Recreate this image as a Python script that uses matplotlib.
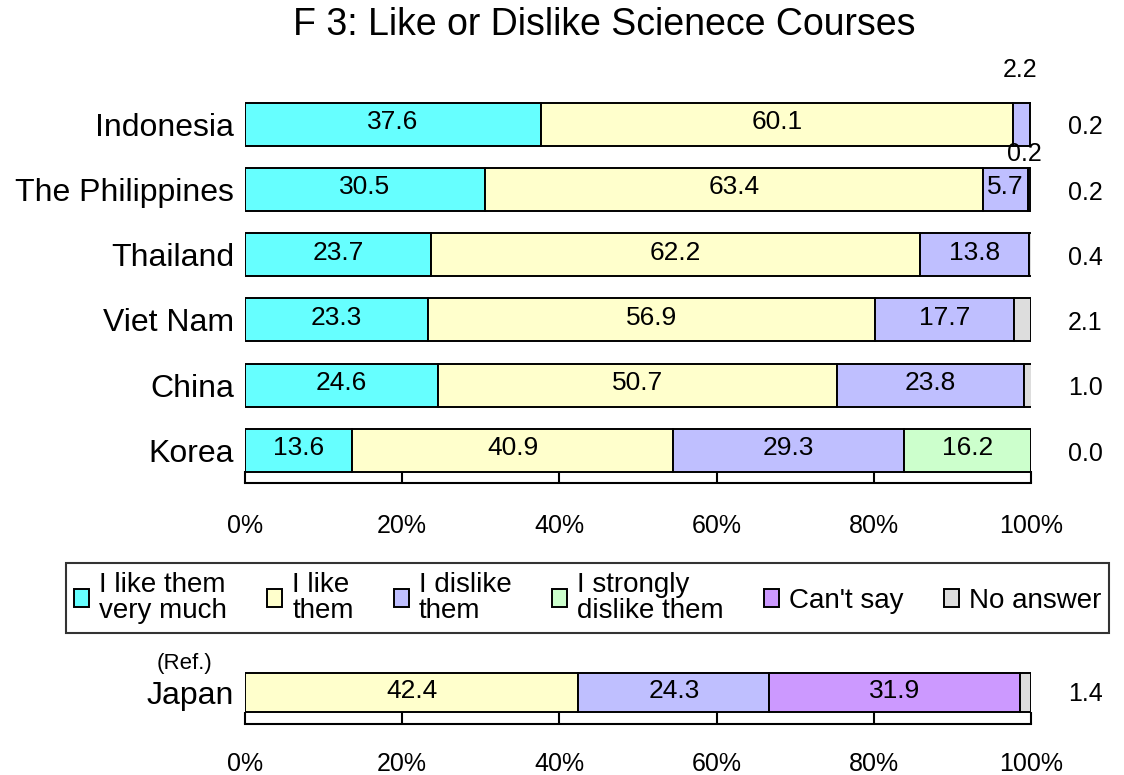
import numpy as np
import matplotlib
matplotlib.use('Agg')
import matplotlib.pyplot as plt
from matplotlib.patches import Patch

plt.rcParams['font.family'] = ['Liberation Sans', 'DejaVu Sans']

countries = ['Indonesia', 'The Philippines', 'Thailand', 'Viet Nam', 'China', 'Korea']
like_very_much = [37.6, 30.5, 23.7, 23.3, 24.6, 13.6]
like = [60.1, 63.4, 62.2, 56.9, 50.7, 40.9]
dislike = [2.2, 5.7, 13.8, 17.7, 23.8, 29.3]
strongly_dislike = [0.0, 0.2, 0.0, 0.0, 0.0, 16.2]
cant_say = [0.0, 0.0, 0.0, 0.0, 0.0, 0.0]
no_answer = [0.2, 0.2, 0.4, 2.1, 1.0, 0.0]

japan = [0.0, 42.4, 24.3, 0.0, 31.9, 1.4]

categories = ['I like them\nvery much', 'I like\nthem', 'I dislike\nthem',
              'I strongly\ndislike them', "Can't say", 'No answer']
colors = ['#66FFFF', '#FFFFCC', '#BFBFFF', '#CCFFCC', '#CC99FF', '#DDDDDD']
ticks = [0, 20, 40, 60, 80, 100]

fig = plt.figure(figsize=(11.24, 7.75), dpi=100)
ax = fig.add_axes([245/1124, 1-483/775, 786/1124, (483-91.5)/775])
axj = fig.add_axes([245/1124, 1-724/775, 786/1124, (724-660)/775])


def stacked(a, rows, y, h):
    left = np.zeros(len(y))
    for k, vals in enumerate(rows):
        vals = np.asarray(vals, float)
        m = vals > 0
        a.barh(y[m], vals[m], left=left[m], height=h, color=colors[k],
               edgecolor='black', linewidth=1.4, zorder=2)
        for i in np.where(m)[0]:
            if k < 5 and vals[i] >= 5:
                a.text(left[i] + vals[i]/2, y[i] - 0.03, f'{vals[i]:.1f}',
                       ha='center', va='center', fontsize=19, zorder=3)
        left = left + vals
    return left


def style(a, pad):
    a.set_xlim(0, 100)
    for s in ['top', 'right', 'left']:
        a.spines[s].set_visible(False)
    a.spines['bottom'].set_linewidth(1.5)
    a.set_xticks(ticks)
    a.set_xticklabels([f'{t}%' for t in ticks], fontsize=18)
    a.tick_params(axis='x', direction='in', length=9, width=1.5, pad=pad)
    a.tick_params(axis='y', length=0, pad=8)


y = np.arange(len(countries))
rows = [like_very_much, like, dislike, strongly_dislike, cant_say, no_answer]
stacked(ax, rows, y, 0.66)
ax.set_ylim(5.5, -0.5)
ax.set_yticks(y)
ax.set_yticklabels(countries, fontsize=23)
style(ax, 22)
for i, v in enumerate(no_answer):
    ax.text(106.9, y[i] + 0.05, f'{v:.1f}', ha='center', va='center', fontsize=18,
            clip_on=False)
# small segments labelled above the bar
ax.text(98.6, -0.83, f'{dislike[0]:.1f}', ha='center', va='center', fontsize=18,
        clip_on=False)
ax.text(99.2, 1 - 0.54, f'{strongly_dislike[1]:.1f}', ha='center', va='center',
        fontsize=18, clip_on=False, zorder=4)

stacked(axj, [[v] for v in japan], np.array([0]), 0.6)
axj.set_ylim(0.485, -0.5)
axj.set_yticks([0])
axj.set_yticklabels(['Japan'], fontsize=23)
style(axj, 20)
axj.text(106.9, 0.02, f'{japan[5]:.1f}', ha='center', va='center', fontsize=18,
         clip_on=False)
fig.text(185/1124, 1-664/775, '(Ref.)', ha='center', va='center', fontsize=16)

fig.text(604/1124, 1-25/775, 'F 3: Like or Dislike Scienece Courses',
         ha='center', va='center', fontsize=27)

handles = [Patch(facecolor=c, edgecolor='black', linewidth=1.4) for c in colors]
leg = fig.legend(handles, categories, loc='center',
                 bbox_to_anchor=(587.5/1124, 1-598/775),
                 ncol=6, fontsize=20, frameon=True, fancybox=False,
                 edgecolor='black', handlelength=0.55, handleheight=0.6,
                 handletextpad=0.35, columnspacing=1.45, borderaxespad=0,
                 borderpad=0.3, labelspacing=0.2)
leg.get_frame().set_linewidth(1.5)
for t in leg.get_texts():
    t.set_linespacing(1.05)

fig.savefig('out.png', dpi=100)
